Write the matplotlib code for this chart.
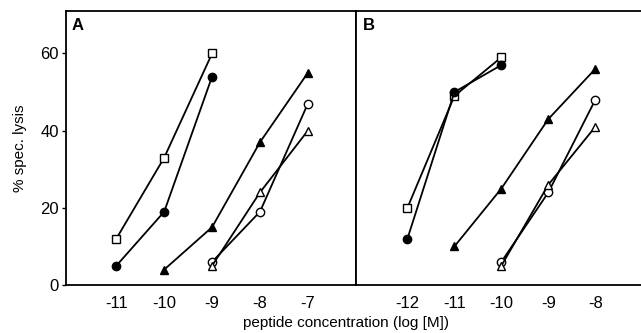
import numpy as np
import matplotlib
matplotlib.use("Agg")
import matplotlib.pyplot as plt

plt.rcParams['font.family'] = ['Liberation Sans', 'DejaVu Sans']

# =========================
# Data
# =========================
# Panel A
A_sq_x, A_sq_y = [-11, -10, -9], [12, 33, 60]
A_fc_x, A_fc_y = [-11, -10, -9], [5, 19, 54]
A_ft_x, A_ft_y = [-10, -9, -8, -7], [4, 15, 37, 55]
A_oc_x, A_oc_y = [-9, -8, -7], [6, 19, 47]
A_ot_x, A_ot_y = [-9, -8, -7], [5, 24, 40]
A_ticks = [-11, -10, -9, -8, -7]

# Panel B
B_sq_x, B_sq_y = [-12, -11, -10], [20, 49, 59]
B_fc_x, B_fc_y = [-12, -11, -10], [12, 50, 57]
B_ft_x, B_ft_y = [-11, -10, -9, -8], [10, 25, 43, 56]
B_oc_x, B_oc_y = [-10, -9, -8], [6, 24, 48]
B_ot_x, B_ot_y = [-10, -9, -8], [5, 26, 41]
B_ticks = [-12, -11, -10, -9, -8]

Y_TICKS = [0, 20, 40, 60]


def draw_series(ax, x, y, marker, filled):
    face = 'black' if filled else 'white'
    ax.plot(x, y, color='black', lw=1.3, marker=marker, ms=6,
            mfc=face, mec='black', mew=1.0, zorder=3)


def style_axes(ax, ticks):
    ax.set_xticks(ticks)
    ax.set_xticklabels([str(t) for t in ticks])
    ax.set_ylim(0, 71)
    ax.tick_params(axis='x', length=0, pad=8, labelsize=12)
    for s in ax.spines.values():
        s.set_linewidth(1.3)


fig = plt.figure(figsize=(6.41, 3.33), dpi=100)
axA = fig.add_axes([0.103, 0.144, 0.452, 0.823])
axB = fig.add_axes([0.555, 0.144, 0.447, 0.823])

# panel A
draw_series(axA, A_sq_x, A_sq_y, 's', False)
draw_series(axA, A_fc_x, A_fc_y, 'o', True)
draw_series(axA, A_ft_x, A_ft_y, '^', True)
draw_series(axA, A_oc_x, A_oc_y, 'o', False)
draw_series(axA, A_ot_x, A_ot_y, '^', False)
style_axes(axA, A_ticks)
axA.set_xlim(-12.05, -6)
axA.set_yticks(Y_TICKS)
axA.tick_params(axis='y', length=3, width=1, labelsize=12, pad=2)
axA.set_ylabel('% spec. lysis', fontsize=11, labelpad=10)
axA.text(0.02, 0.975, 'A', transform=axA.transAxes, fontsize=12,
         fontweight='bold', va='top', ha='left')

# panel B
draw_series(axB, B_sq_x, B_sq_y, 's', False)
draw_series(axB, B_fc_x, B_fc_y, 'o', True)
draw_series(axB, B_ft_x, B_ft_y, '^', True)
draw_series(axB, B_oc_x, B_oc_y, 'o', False)
draw_series(axB, B_ot_x, B_ot_y, '^', False)
style_axes(axB, B_ticks)
axB.set_xlim(-13.1, -7.0)
axB.set_yticks([])
axB.spines['right'].set_visible(False)
axB.text(0.025, 0.975, 'B', transform=axB.transAxes, fontsize=12,
         fontweight='bold', va='top', ha='left')

fig.text(0.54, 0.01, 'peptide concentration (log [M])', ha='center',
         va='bottom', fontsize=11)

fig.savefig('out.png', dpi=100)
